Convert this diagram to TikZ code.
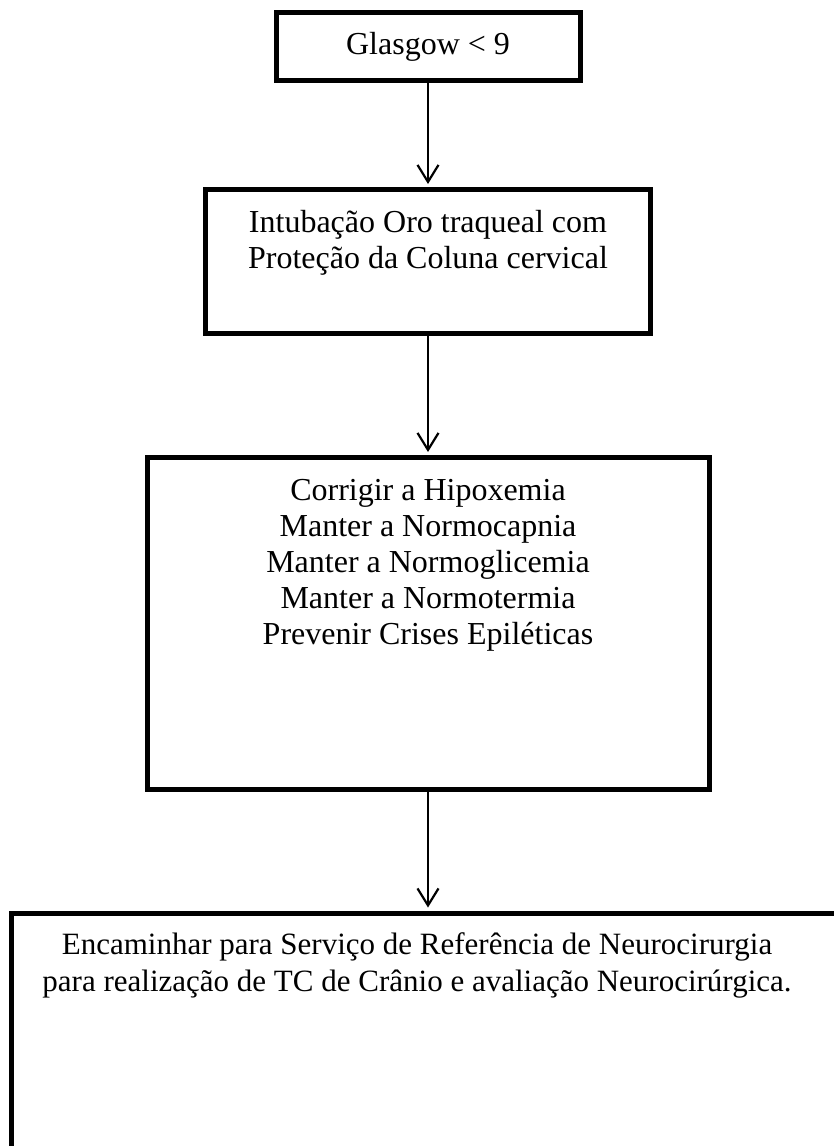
\documentclass[tikz,border=0pt]{standalone}
\usepackage{fontspec}
\setmainfont{Liberation Serif}
\usetikzlibrary{arrows.meta}

\tikzset{
  stepbox/.style={draw=black, line width=5pt, fill=white, inner sep=0pt},
  % multi-line texts sit on the baseline of their last line
  steptext/.style={align=center, inner sep=0pt, anchor=base,
    font=\fontsize{32}{36}\selectfont},
  flow/.style={line width=2.2pt, shorten >=3pt,
    -{Straight Barb[length=17pt,width=21pt,line width=2.2pt]}}
}

\begin{document}
\begin{tikzpicture}[x=1pt,y=-1pt]
  \useasboundingbox (0,0) rectangle (834,1146);
  \clip (0,0) rectangle (834,1146);

  % boxes
  \node[stepbox, minimum width=304pt, minimum height=68pt] (b1) at (428,46.5) {};
  \node[stepbox, minimum width=445pt, minimum height=144pt] (b2) at (428,261.5) {};
  \node[stepbox, minimum width=562pt, minimum height=332pt] (b3) at (428.5,623.5) {};
  \node[stepbox, minimum width=888pt, minimum height=340pt] (b4) at (455.5,1083) {};

  % texts
  \node[steptext] (t1) at (428,54) {Glasgow < 9};
  \node[steptext] (t2) at (428,268) {Intubação Oro traqueal com\\Proteção da Coluna cervical};
  \node[steptext] (t3) at (428,644) {Corrigir a Hipoxemia\\Manter a Normocapnia\\Manter a Normoglicemia\\Manter a Normotermia\\Prevenir Crises Epiléticas};
  \node[steptext, font=\fontsize{31}{37}\selectfont] (t4) at (417,991) {Encaminhar para Serviço de Referência de Neurocirurgia\\para realização de TC de Crânio e avaliação Neurocirúrgica.};

  % connectors, all on the common vertical axis
  \draw[flow] (b1.south) -- (b2.north);
  \draw[flow] (b2.south) -- (b2.south |- b3.north);
  \draw[flow] (b2.south |- b3.south) -- (b2.south |- b4.north);
\end{tikzpicture}
\end{document}
